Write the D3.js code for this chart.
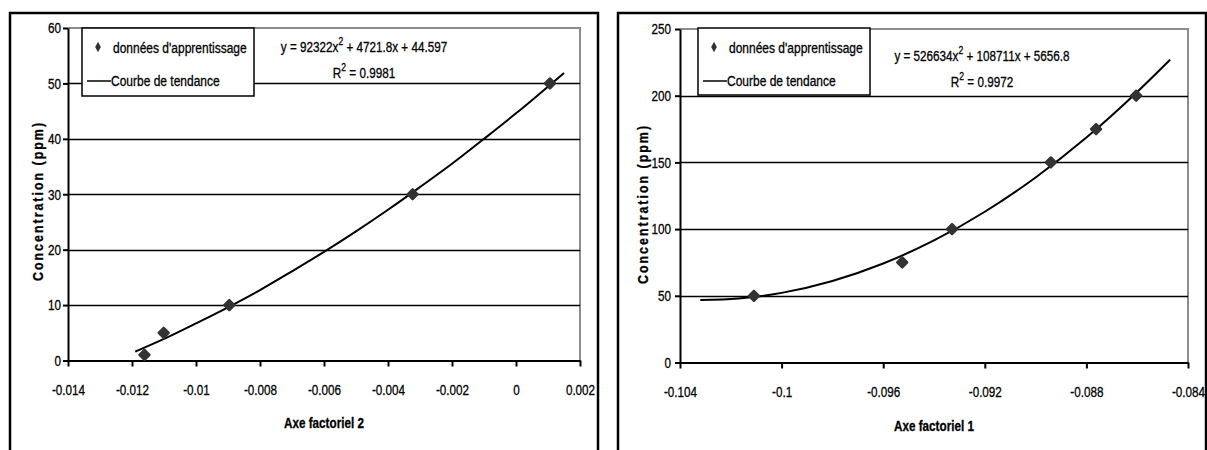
<!DOCTYPE html>
<html>
<head>
<meta charset="utf-8">
<script src="https://cdn.jsdelivr.net/npm/d3@7"></script>
<style>
  html, body { margin: 0; padding: 0; background: #fff; }
  svg { display: block; }
  svg text { stroke: #000; stroke-width: 0.3px; }
</style>
</head>
<body>
<svg id="chart" width="1207" height="450"></svg>
<script>
// ---------- Data ----------
// Left chart: Axe factoriel 2
const leftPointsX = [-0.01161, -0.01101, -0.00896, -0.00323, 0.00106];
const leftPointsY = [1, 5, 10, 30, 50];
const leftTrendX = [-0.0119, -0.011, -0.010, -0.009, -0.008, -0.007, -0.006, -0.005, -0.004, -0.003, -0.002, -0.001, 0, 0.0015];
const leftTrendY = [1.6, 3.9, 6.7, 9.6, 12.7, 16.1, 19.6, 23.3, 27.2, 31.3, 35.5, 40.0, 44.6, 51.9];
const leftXTicks = [-0.014, -0.012, -0.010, -0.008, -0.006, -0.004, -0.002, 0, 0.002];
const leftXTickLabels = ["-0.014", "-0.012", "-0.01", "-0.008", "-0.006", "-0.004", "-0.002", "0", "0.002"];
const leftYTicks = [0, 10, 20, 30, 40, 50, 60];
const leftEquation = ["y = 92322x", "2", " + 4721.8x + 44.597"];
const leftR2 = "0.9981";
const leftXTitle = "Axe factoriel 2";

// Right chart: Axe factoriel 1
const rightPointsX = [-0.10109, -0.09525, -0.09329, -0.0894, -0.08762, -0.08604];
const rightPointsY = [50, 75, 100, 150, 175, 200];
const rightTrendX = [-0.1032, -0.1017, -0.100, -0.098, -0.096, -0.094, -0.092, -0.090, -0.088, -0.086, -0.0847];
const rightTrendY = [46.8, 48.0, 52.2, 61.1, 74.2, 91.5, 113.0, 138.7, 168.6, 202.8, 227.0];
const rightXTicks = [-0.104, -0.100, -0.096, -0.092, -0.088, -0.084];
const rightXTickLabels = ["-0.104", "-0.1", "-0.096", "-0.092", "-0.088", "-0.084"];
const rightYTicks = [0, 50, 100, 150, 200, 250];
const rightEquation = ["y = 526634x", "2", " + 108711x + 5656.8"];
const rightR2 = "0.9972";
const rightXTitle = "Axe factoriel 1";

const yTitle = "Concentration (ppm)";
const legendLabels = ["données d'apprentissage", "Courbe de tendance"];

// ---------- Drawing ----------
const svg = d3.select("#chart");
const FONT = "'Liberation Sans', Arial, sans-serif";
const S = 0.78;          // horizontal compression (narrow face look)
const FS = 15;
const MARK = "#333333";

function narrow(parent, x, y, opts = {}) {
  const g = parent.append("g").attr("transform", `translate(${x},${y})${opts.rotate ? " rotate(-90)" : ""} scale(${opts.s || S},1)`);
  return g.append("text")
    .attr("text-anchor", opts.anchor || "start")
    .attr("font-family", FONT)
    .attr("font-size", opts.size || FS)
    .attr("font-weight", opts.bold ? "bold" : "normal")
    .attr("fill", "#000");
}

function drawChart(cfg) {
  const g = svg.append("g");
  g.append("rect")
    .attr("x", cfg.frame[0]).attr("y", cfg.frame[1])
    .attr("width", cfg.frame[2]).attr("height", cfg.frame[3])
    .attr("fill", "none").attr("stroke", "#000").attr("stroke-width", 2.5);

  const x = d3.scaleLinear().domain(cfg.xDomain).range([cfg.plot.left, cfg.plot.right]);
  const y = d3.scaleLinear().domain(cfg.yDomain).range([cfg.plot.bottom, cfg.plot.top]);

  g.append("path")
    .attr("d", `M${cfg.plot.left},${cfg.plot.top}H${cfg.plot.right}V${cfg.plot.bottom}`)
    .attr("fill", "none").attr("stroke", "#8c8c8c").attr("stroke-width", 2);

  g.append("g").selectAll("line")
    .data(cfg.yTicks.filter(v => v > cfg.yDomain[0] && v < cfg.yDomain[1]))
    .join("line")
    .attr("x1", cfg.plot.left).attr("x2", cfg.plot.right)
    .attr("y1", d => Math.round(y(d)) + 0.5).attr("y2", d => Math.round(y(d)) + 0.5)
    .attr("stroke", "#000").attr("stroke-width", 1.4);

  const xAxis = d3.axisBottom(x).tickValues(cfg.xTicks)
    .tickFormat((d, i) => cfg.xTickLabels[i]).tickSizeInner(6).tickSizeOuter(0).tickPadding(18);
  const gx = g.append("g").attr("transform", `translate(0,${cfg.plot.bottom})`).call(xAxis);
  gx.select(".domain").attr("stroke", "#000").attr("stroke-width", 2);
  gx.selectAll(".tick line").attr("stroke", "#000").attr("stroke-width", 2);
  gx.selectAll(".tick text").attr("font-family", FONT).attr("font-size", FS).attr("fill", "#000")
    .attr("transform", `scale(${S},1)`);

  const yAxis = d3.axisLeft(y).tickValues(cfg.yTicks)
    .tickFormat(d3.format("d")).tickSizeInner(5).tickSizeOuter(0).tickPadding(cfg.yPad);
  const gy = g.append("g").attr("transform", `translate(${cfg.plot.left},0)`).call(yAxis);
  gy.select(".domain").attr("stroke", "#000").attr("stroke-width", 2);
  gy.selectAll(".tick line").attr("stroke", "#000").attr("stroke-width", 2);
  gy.selectAll(".tick text").attr("font-family", FONT).attr("font-size", FS).attr("fill", "#000")
    .attr("x", -(5 + cfg.yPad) / S).attr("transform", `scale(${S},1)`);

  // axis titles
  narrow(g, cfg.yTitleX, cfg.yTitleY, { rotate: true, anchor: "middle", bold: true, size: 15, s: 0.83 })
    .attr("letter-spacing", 2.4).text(yTitle);
  narrow(g, (cfg.plot.left + cfg.plot.right) / 2, cfg.xTitleY, { anchor: "middle", bold: true, size: 15 })
    .text(cfg.xTitle);

  // trend line
  const line = d3.line().x(d => x(d[0])).y(d => y(d[1])).curve(d3.curveMonotoneX);
  g.append("path")
    .datum(cfg.trendX.map((v, i) => [v, cfg.trendY[i]]))
    .attr("d", line)
    .attr("fill", "none").attr("stroke", "#000").attr("stroke-width", 2);

  // points
  const marker = d3.symbol().type(d3.symbolSquare).size(50);
  g.append("g").selectAll("path")
    .data(cfg.pointsX.map((v, i) => [v, cfg.pointsY[i]]))
    .join("path")
    .attr("d", marker)
    .attr("transform", d => `translate(${x(d[0])},${y(d[1])}) rotate(45)`)
    .attr("fill", MARK).attr("stroke", MARK).attr("stroke-width", 2.4).attr("stroke-linejoin", "round");

  // legend
  const L = cfg.legend;
  g.append("rect").attr("x", L.x).attr("y", L.y).attr("width", L.w).attr("height", L.h)
    .attr("fill", "#fff").attr("stroke", "#000").attr("stroke-width", 1.5);
  g.append("path").attr("d", d3.symbol().type(d3.symbolDiamond).size(28))
    .attr("transform", `translate(${L.x + 16},${L.y + 19}) scale(1,1.05)`)
    .attr("fill", MARK);
  narrow(g, L.x + 31, L.y + 25, { s: 0.8 }).text(legendLabels[0]);
  g.append("line").attr("x1", L.x + 5).attr("x2", L.x + 29)
    .attr("y1", L.y + 53).attr("y2", L.y + 53).attr("stroke", "#000").attr("stroke-width", 1.5);
  narrow(g, L.x + 29, L.y + 58, { s: 0.8 }).text(legendLabels[1]);

  // equation + R²
  const eq = narrow(g, cfg.eqX, cfg.eqY, { anchor: "middle" });
  eq.append("tspan").text(cfg.equation[0]);
  eq.append("tspan").attr("dy", -7).attr("font-size", 11).text(cfg.equation[1]);
  eq.append("tspan").attr("dy", 7).text(cfg.equation[2]);
  const r2 = narrow(g, cfg.eqX, cfg.eqY + 26, { anchor: "middle" });
  r2.append("tspan").text("R");
  r2.append("tspan").attr("dy", -7).attr("font-size", 11).text("2");
  r2.append("tspan").attr("dy", 7).text(" = " + cfg.r2);
}

drawChart({
  frame: [10, 13, 588, 450],
  plot: { left: 68, right: 580, top: 28, bottom: 360.5 },
  xDomain: [-0.014, 0.002], yDomain: [0, 60],
  xTicks: leftXTicks, xTickLabels: leftXTickLabels, yTicks: leftYTicks, yPad: 2,
  yTitleX: 43, yTitleY: 201, xTitleY: 428, xTitle: leftXTitle,
  trendX: leftTrendX, trendY: leftTrendY, pointsX: leftPointsX, pointsY: leftPointsY,
  legend: { x: 82, y: 28, w: 172, h: 68 },
  equation: leftEquation, r2: leftR2, eqX: 364, eqY: 52
});

drawChart({
  frame: [618, 13, 588, 450],
  plot: { left: 680, right: 1188, top: 29, bottom: 362.5 },
  xDomain: [-0.104, -0.084], yDomain: [0, 250],
  xTicks: rightXTicks, xTickLabels: rightXTickLabels, yTicks: rightYTicks, yPad: 4,
  yTitleX: 648, yTitleY: 204, xTitleY: 431, xTitle: rightXTitle,
  trendX: rightTrendX, trendY: rightTrendY, pointsX: rightPointsX, pointsY: rightPointsY,
  legend: { x: 698, y: 28, w: 172, h: 67 },
  equation: rightEquation, r2: rightR2, eqX: 982, eqY: 61
});
</script>
</body>
</html>
